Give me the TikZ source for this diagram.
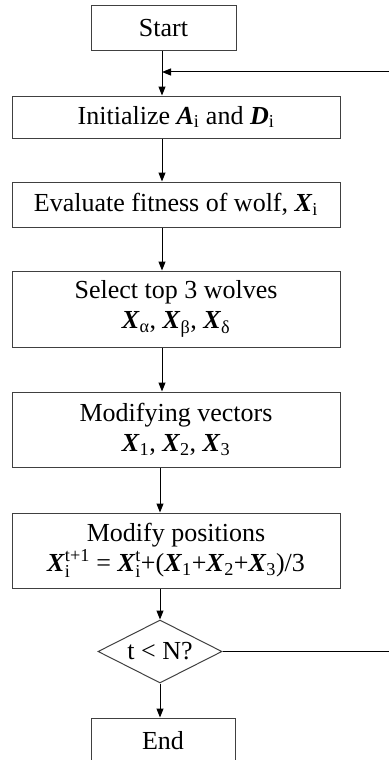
\documentclass[tikz,border=0pt]{standalone}
\usepackage{amsmath}
\usepackage{fontspec}
\setmainfont{Liberation Serif}
\usetikzlibrary{arrows.meta,shapes.geometric}
\newcommand{\bX}{\textbf{\textit{X}}}
\newcommand{\bA}{\textbf{\textit{A}}}
\newcommand{\bD}{\textbf{\textit{D}}}
\newcommand{\sbs}[1]{\textsubscript{#1}}
\begin{document}
\begin{tikzpicture}[x=1pt,y=-1pt,
  box/.style={draw=black!75,line width=1pt,fill=white,align=center,inner sep=0pt,
    font=\fontsize{26}{30}\selectfont},
  dec/.style={draw=black!75,line width=1pt,diamond,aspect=2,inner sep=0pt,
    font=\fontsize{26}{30}\selectfont},
  flow/.style={line width=1pt,-{Triangle[length=9pt,width=7pt]}},
  link/.style={line width=1pt}]
\useasboundingbox (0,0) rectangle (389,760);
\node[box,minimum width=145pt,minimum height=45pt] (start) at (163.5,28.5) {Start};
\node[box,minimum width=328pt,minimum height=42pt] (init) at (176,117) {Initialize \bA\sbs{i} and \bD\sbs{i}};
\node[box,minimum width=328pt,minimum height=45pt] (eval) at (176,204.5) {Evaluate fitness of wolf, \bX\sbs{i}};
\node[box,minimum width=328pt,minimum height=76pt] (sel) at (176,309) {Select top 3 wolves\\ \bX\sbs{α}, \bX\sbs{β}, \bX\sbs{δ}};
\node[box,minimum width=328pt,minimum height=75pt] (vec) at (176,429.5) {Modifying vectors\\ \bX\sbs{1}, \bX\sbs{2}, \bX\sbs{3}};
\node[box,minimum width=328pt,minimum height=75pt] (pos) at (176,550.5) {Modify positions\\ $\bX^{\text{t+1}}_{\text{i}}$ = $\bX^{\text{t}}_{\text{i}}$+(\bX\sbs{1}+\bX\sbs{2}+\bX\sbs{3})/3};
\node[dec,minimum width=124pt,minimum height=63pt] (cond) at (160,651.5) {t < N?};
\node[box,minimum width=144pt,minimum height=45pt] (end) at (163,740.5) {End};
\coordinate (merge) at (162,72);
\coordinate (loopin) at (389,72);
\coordinate (loopout) at (389,651.5);
\draw[link] (start.south -| merge) -- (merge);
\draw[flow] (merge) -- (init.north -| merge);
\draw[flow] (init.south -| merge) -- (eval.north -| merge);
\draw[flow] (eval.south -| merge) -- (sel.north -| merge);
\draw[flow] (sel.south -| merge) -- (vec.north -| merge);
\draw[flow] (vec.south -| cond) -- (pos.north -| cond);
\draw[flow] (pos.south -| cond) -- (cond.north);
\draw[flow] (cond.south) -- (end.north -| cond);
\draw[link] (cond.east) -- (loopout);
\draw[flow] (loopin) -- (merge);
\end{tikzpicture}
\end{document}
